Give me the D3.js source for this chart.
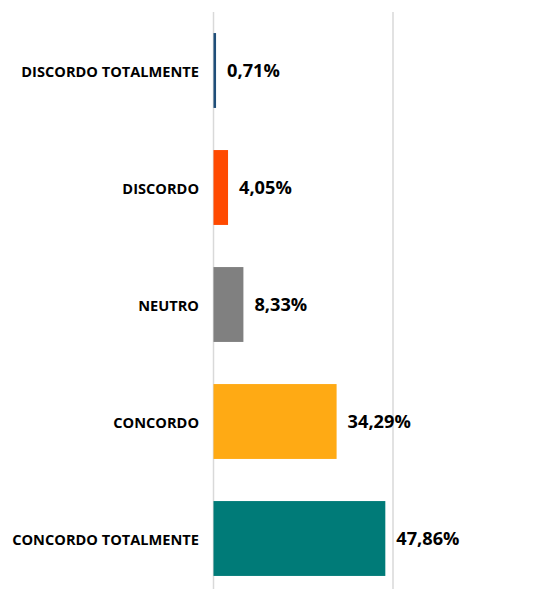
<!DOCTYPE html>
<html>
<head>
<meta charset="utf-8">
<title>Concordância</title>
<style>
body {
  margin: 0;
  background: #fff;
}
svg {
  display: block;
}
.cat text {
  font: bold 14.6px "Open Sans", sans-serif;
  fill: #000;
}
.val {
  font: bold 18.2px "Open Sans", sans-serif;
  fill: #000;
}
.grid line {
  stroke: #d9d9d9;
  stroke-width: 1.5px;
}
</style>
<script src="https://d3js.org/d3.v7.min.js"></script>
</head>
<body>
<div id="chart"></div>
<script>
var categories = ['DISCORDO TOTALMENTE', 'DISCORDO', 'NEUTRO', 'CONCORDO', 'CONCORDO TOTALMENTE']
var values = [0.71, 4.05, 8.33, 34.29, 47.86]
var colors = ['#1f4e79', '#ff4a00', '#808080', '#ffaa14', '#007b78']
var gridTicks = [0, 50]

var width = 556, height = 589

var svg = d3.select('#chart').append('svg')
    .attr('width', width)
    .attr('height', height)

var x = d3.scaleLinear().domain([0, 50]).range([213.5, 393])
var y = d3.scaleBand().domain(categories).range([12, 597])
    .paddingInner(0.36).paddingOuter(0.18)

// gridlines
svg.append('g').attr('class', 'grid')
  .selectAll('line').data(gridTicks).enter().append('line')
    .attr('x1', d => x(d)).attr('x2', d => x(d))
    .attr('y1', 12).attr('y2', height)

// bars
svg.selectAll('rect.bar').data(values).enter().append('rect')
    .attr('class', 'bar')
    .attr('x', x(0))
    .attr('y', (d, i) => y(categories[i]))
    .attr('width', d => x(d) - x(0))
    .attr('height', y.bandwidth())
    .attr('fill', (d, i) => colors[i])

// value labels
svg.selectAll('text.val').data(values).enter().append('text')
    .attr('class', 'val')
    .attr('x', d => x(d) + 11)
    .attr('y', (d, i) => y(categories[i]) + y.bandwidth() / 2 + 2)
    .attr('dominant-baseline', 'middle')
    .text(d => d.toFixed(2).replace('.', ',') + '%')

// category axis
var yAxis = d3.axisLeft(y).tickSize(0).tickPadding(14)
svg.append('g').attr('class', 'cat')
    .attr('transform', 'translate(' + (x(0) - 0.5) + ',2)')
    .call(yAxis)
    .call(g => g.select('.domain').remove())
    .selectAll('text').attr('font-family', null).attr('font-size', null)
</script>
</body>
</html>
